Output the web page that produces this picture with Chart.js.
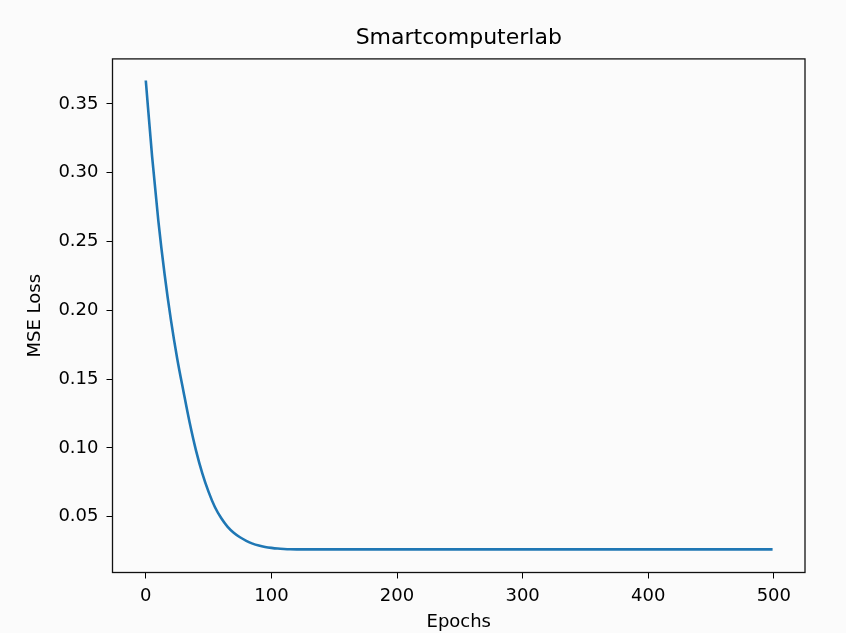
<!DOCTYPE html>
<html>
<head>
<meta charset="utf-8">
<script src="https://cdn.jsdelivr.net/npm/chart.js@4/dist/chart.umd.min.js"></script>
<style>
  html, body { margin: 0; padding: 0; background: #fbfbfb; }
  #wrap { width: 846px; height: 633px; }
</style>
</head>
<body>
<div id="wrap"><canvas id="c" width="846" height="633"></canvas></div>
<script>
// Training epochs at which the loss was recorded
const epochs = [0, 5, 10, 15, 20, 25, 30, 35, 40, 45, 50, 55, 60, 65, 70, 75, 80, 85, 90, 95,
                100, 105, 110, 115, 120, 150, 200, 250, 300, 350, 400, 450, 499];
// Mean squared error at each recorded epoch
const mseLoss = [0.367, 0.312, 0.265, 0.226, 0.193, 0.165, 0.141, 0.118, 0.098, 0.0815, 0.068,
                 0.057, 0.049, 0.0428, 0.0383, 0.0350, 0.0324, 0.0304, 0.0290, 0.0280,
                 0.0273, 0.0268, 0.0265, 0.0263, 0.0262, 0.0262, 0.0262, 0.0262, 0.0262,
                 0.0262, 0.0262, 0.0262, 0.0262];
// Axis tick values
const xTicks = [0, 100, 200, 300, 400, 500];
const yTicks = [0.05, 0.10, 0.15, 0.20, 0.25, 0.30, 0.35];

const FONT = "'DejaVu Sans', 'Liberation Sans', sans-serif";

// Figure background and the full box around the plot area
const frame = {
  id: 'frame',
  beforeDraw(chart) {
    const ctx = chart.ctx;
    ctx.save();
    ctx.fillStyle = '#fbfbfb';
    ctx.fillRect(0, 0, chart.width, chart.height);
    ctx.restore();
  },
  afterDatasetsDraw(chart) {
    const a = chart.chartArea;
    const ctx = chart.ctx;
    ctx.save();
    ctx.strokeStyle = '#111';
    ctx.lineWidth = 1.3;
    ctx.strokeRect(a.left, a.top, a.right - a.left, a.bottom - a.top);
    ctx.restore();
  }
};

const points = epochs.map((e, i) => ({ x: e, y: mseLoss[i] }));

new Chart(document.getElementById('c'), {
  type: 'line',
  data: {
    datasets: [{
      data: points,
      borderColor: '#1f77b4',
      borderWidth: 2.6,
      pointRadius: 0,
      fill: false,
      cubicInterpolationMode: 'monotone'
    }]
  },
  options: {
    responsive: false,
    animation: false,
    devicePixelRatio: 1,
    layout: { padding: { left: 0, right: 41, top: 0, bottom: 0 } },
    plugins: {
      legend: { display: false },
      tooltip: { enabled: false },
      title: {
        display: true,
        text: 'Smartcomputerlab',
        fullSize: false,
        color: '#000',
        font: { family: FONT, size: 22, weight: 'normal', lineHeight: 1.2 },
        padding: { top: 25, bottom: 7.5 }
      }
    },
    scales: {
      x: {
        type: 'linear',
        min: -26.5,
        max: 524.8,
        afterBuildTicks(scale) { scale.ticks = xTicks.map(v => ({ value: v })); },
        afterFit(scale) { scale.height = 60.5; },
        border: { display: false },
        grid: { display: true, drawOnChartArea: false, drawTicks: true, tickLength: 6, color: '#000', lineWidth: 1 },
        ticks: {
          color: '#000',
          padding: 7,
          maxRotation: 0,
          autoSkip: false,
          font: { family: FONT, size: 18 },
          callback: v => String(v)
        },
        title: {
          display: true,
          text: 'Epochs',
          color: '#000',
          font: { family: FONT, size: 18, lineHeight: 1.2 },
          padding: { top: 0, bottom: 0 }
        }
      },
      y: {
        type: 'linear',
        min: 0.0094,
        max: 0.3827,
        afterBuildTicks(scale) { scale.ticks = yTicks.map(v => ({ value: v })); },
        afterFit(scale) { scale.width = 112.5; },
        border: { display: false },
        grid: { display: true, drawOnChartArea: false, drawTicks: true, tickLength: 6, color: '#000', lineWidth: 1 },
        ticks: {
          color: '#000',
          padding: 8,
          font: { family: FONT, size: 18 },
          callback: v => Number(v).toFixed(2)
        },
        title: {
          display: true,
          text: 'MSE Loss',
          color: '#000',
          font: { family: FONT, size: 18, lineHeight: 1.2 },
          padding: { top: 24.4, bottom: 0 }
        }
      }
    }
  },
  plugins: [frame]
});
</script>
</body>
</html>
